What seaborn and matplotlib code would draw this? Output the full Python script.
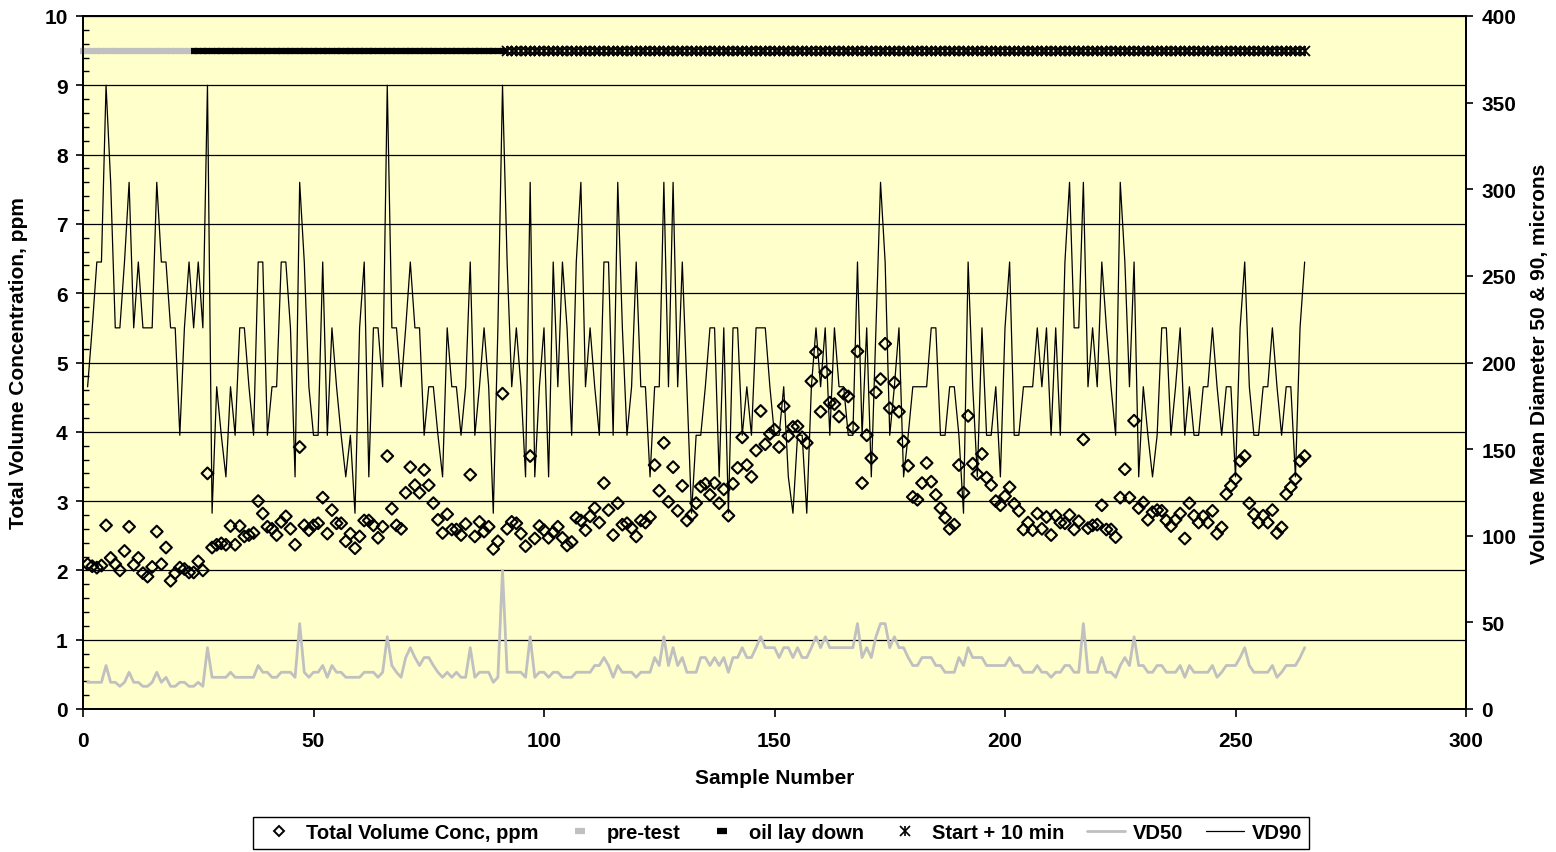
import numpy as np
import matplotlib
matplotlib.use("Agg")
import matplotlib.pyplot as plt
from matplotlib.lines import Line2D
from matplotlib.legend_handler import HandlerTuple
from matplotlib.ticker import MultipleLocator
import seaborn as sns

# ---------------------------------------------------------------- data
samples = np.arange(1, 266)

total_volume_conc = [
    2.09, 2.06, 2.04, 2.07, 2.65, 2.18, 2.09, 2.00, 2.28, 2.63,
    2.08, 2.18, 1.96, 1.91, 2.05, 2.56, 2.09, 2.33, 1.85, 1.96,
    2.04, 2.02, 1.97, 1.97, 2.13, 2.00, 3.40, 2.33, 2.37, 2.39,
    2.37, 2.64, 2.37, 2.64, 2.49, 2.51, 2.54, 3.00, 2.82, 2.63,
    2.60, 2.51, 2.70, 2.78, 2.60, 2.37, 3.78, 2.65, 2.58, 2.65,
    2.68, 3.05, 2.53, 2.87, 2.68, 2.68, 2.42, 2.53, 2.32, 2.49,
    2.72, 2.72, 2.65, 2.47, 2.63, 3.65, 2.89, 2.65, 2.60, 3.12,
    3.49, 3.23, 3.12, 3.45, 3.23, 2.97, 2.73, 2.54, 2.81, 2.59,
    2.59, 2.51, 2.67, 3.38, 2.49, 2.70, 2.56, 2.63, 2.31, 2.42,
    4.55, 2.60, 2.70, 2.68, 2.53, 2.35, 3.65, 2.46, 2.64, 2.58,
    2.47, 2.55, 2.63, 2.47, 2.36, 2.41, 2.76, 2.72, 2.58, 2.78,
    2.90, 2.69, 3.26, 2.87, 2.51, 2.97, 2.66, 2.68, 2.61, 2.49,
    2.72, 2.69, 2.77, 3.52, 3.15, 3.84, 2.99, 3.49, 2.86, 3.22,
    2.72, 2.80, 2.97, 3.21, 3.25, 3.09, 3.26, 2.97, 3.17, 2.79,
    3.25, 3.48, 3.92, 3.52, 3.35, 3.73, 4.30, 3.82, 3.97, 4.03,
    3.78, 4.37, 3.94, 4.07, 4.08, 3.92, 3.84, 4.73, 5.15, 4.29,
    4.86, 4.42, 4.40, 4.22, 4.55, 4.51, 4.06, 5.16, 3.26, 3.95,
    3.62, 4.57, 4.76, 5.27, 4.34, 4.71, 4.29, 3.86, 3.51, 3.06,
    3.02, 3.26, 3.55, 3.28, 3.09, 2.90, 2.76, 2.60, 2.66, 3.52,
    3.12, 4.23, 3.54, 3.39, 3.68, 3.34, 3.23, 3.00, 2.94, 3.07,
    3.20, 2.96, 2.86, 2.59, 2.69, 2.58, 2.82, 2.60, 2.77, 2.51,
    2.79, 2.69, 2.68, 2.80, 2.59, 2.71, 3.89, 2.61, 2.65, 2.66,
    2.94, 2.59, 2.59, 2.48, 3.05, 3.46, 3.05, 4.16, 2.90, 2.98,
    2.73, 2.84, 2.87, 2.86, 2.72, 2.64, 2.73, 2.82, 2.46, 2.97,
    2.79, 2.69, 2.78, 2.69, 2.86, 2.53, 2.62, 3.10, 3.22, 3.32,
    3.58, 3.65, 2.97, 2.81, 2.69, 2.79, 2.69, 2.87, 2.54, 2.62,
    3.10, 3.20, 3.32, 3.58, 3.65,
]

vd50 = [
    15.4, 15.4, 15.4, 15.4, 25.1, 15.4, 15.4, 13.1, 15.4, 21.2,
    15.4, 15.4, 13.1, 13.1, 15.4, 21.2, 15.4, 18.3, 13.1, 13.1,
    15.4, 15.4, 13.1, 13.1, 15.4, 13.1, 35.4, 18.3, 18.3, 18.3,
    18.3, 21.2, 18.3, 18.3, 18.3, 18.3, 18.3, 25.1, 21.2, 21.2,
    18.3, 18.3, 21.2, 21.2, 21.2, 18.3, 49.3, 21.2, 18.3, 21.2,
    21.2, 25.1, 18.3, 25.1, 21.2, 21.2, 18.3, 18.3, 18.3, 18.3,
    21.2, 21.2, 21.2, 18.3, 21.2, 41.7, 25.1, 21.2, 18.3, 29.7,
    35.4, 29.7, 25.1, 29.7, 29.7, 25.1, 21.2, 18.3, 21.2, 18.3,
    21.2, 18.3, 18.3, 35.4, 18.3, 21.2, 21.2, 21.2, 15.4, 18.3,
    80.0, 21.2, 21.2, 21.2, 21.2, 18.3, 41.7, 18.3, 21.2, 21.2,
    18.3, 21.2, 21.2, 18.3, 18.3, 18.3, 21.2, 21.2, 21.2, 21.2,
    25.1, 25.1, 29.7, 25.1, 18.3, 25.1, 21.2, 21.2, 21.2, 18.3,
    21.2, 21.2, 21.2, 29.7, 25.1, 41.7, 25.1, 35.4, 25.1, 29.7,
    21.2, 21.2, 21.2, 29.7, 29.7, 25.1, 29.7, 25.1, 29.7, 21.2,
    29.7, 29.7, 35.4, 29.7, 29.7, 35.4, 41.7, 35.4, 35.4, 35.4,
    29.7, 35.4, 35.4, 29.7, 35.4, 29.7, 29.7, 35.4, 41.7, 35.4,
    41.7, 35.4, 35.4, 35.4, 35.4, 35.4, 35.4, 49.3, 29.7, 35.4,
    29.7, 41.7, 49.3, 49.3, 35.4, 41.7, 35.4, 35.4, 29.7, 25.1,
    25.1, 29.7, 29.7, 29.7, 25.1, 25.1, 21.2, 21.2, 21.2, 29.7,
    25.1, 35.4, 29.7, 29.7, 29.7, 25.1, 25.1, 25.1, 25.1, 25.1,
    29.7, 25.1, 25.1, 21.2, 21.2, 21.2, 25.1, 21.2, 21.2, 18.3,
    21.2, 21.2, 25.1, 25.1, 21.2, 21.2, 49.3, 21.2, 21.2, 21.2,
    29.7, 21.2, 21.2, 18.3, 25.1, 29.7, 25.1, 41.7, 25.1, 25.1,
    21.2, 21.2, 25.1, 25.1, 21.2, 21.2, 21.2, 25.1, 18.3, 25.1,
    21.2, 21.2, 21.2, 21.2, 25.1, 18.3, 21.2, 25.1, 25.1, 25.1,
    29.7, 35.4, 25.1, 21.2, 21.2, 21.2, 21.2, 25.1, 18.3, 21.2,
    25.1, 25.1, 25.1, 29.7, 35.4,
]

vd90 = [
    186, 220, 258, 258, 360, 304, 220, 220, 258, 304,
    220, 258, 220, 220, 220, 304, 258, 258, 220, 220,
    158, 220, 258, 220, 258, 220, 360, 113, 186, 158,
    134, 186, 158, 220, 220, 186, 158, 258, 258, 158,
    186, 186, 258, 258, 220, 134, 304, 258, 186, 158,
    158, 258, 158, 220, 186, 158, 134, 158, 113, 220,
    258, 134, 220, 220, 186, 360, 220, 220, 186, 220,
    258, 220, 220, 158, 186, 186, 158, 134, 220, 186,
    186, 158, 186, 258, 158, 186, 220, 186, 113, 220,
    360, 258, 186, 220, 186, 134, 304, 134, 186, 220,
    134, 258, 186, 258, 220, 158, 258, 304, 186, 220,
    186, 158, 258, 258, 158, 304, 220, 158, 186, 258,
    186, 186, 134, 186, 186, 304, 186, 304, 186, 258,
    186, 113, 158, 158, 186, 220, 220, 134, 220, 113,
    220, 220, 158, 186, 158, 220, 220, 220, 186, 158,
    158, 186, 134, 113, 158, 158, 113, 186, 220, 186,
    220, 158, 220, 186, 186, 158, 158, 258, 158, 220,
    134, 220, 304, 258, 158, 186, 220, 134, 158, 186,
    186, 186, 186, 220, 220, 158, 158, 186, 186, 158,
    113, 258, 186, 134, 220, 158, 158, 186, 134, 220,
    258, 158, 158, 186, 186, 186, 220, 186, 220, 158,
    220, 158, 258, 304, 220, 220, 304, 186, 220, 186,
    258, 220, 186, 158, 304, 258, 186, 258, 134, 186,
    158, 134, 158, 220, 220, 158, 186, 220, 158, 186,
    158, 158, 186, 186, 220, 186, 158, 186, 186, 134,
    220, 258, 186, 158, 158, 186, 186, 220, 186, 158,
    186, 186, 134, 220, 258,
]

# test phases, shown as a band across the top of the plot
pretest_samples = np.arange(0, 24)
laydown_samples = np.arange(24, 92)
start10_samples = np.arange(92, 266)
phase_level = 9.5

# ---------------------------------------------------------------- style
sns.set_style("ticks")
plt.rcParams["font.family"] = ["Liberation Sans", "DejaVu Sans"]
plt.rcParams["font.weight"] = "bold"
plt.rcParams["axes.labelweight"] = "bold"
plt.rcParams["text.color"] = "black"
plt.rcParams["axes.labelcolor"] = "black"
plt.rcParams["xtick.color"] = "black"
plt.rcParams["ytick.color"] = "black"
plt.rcParams["xtick.labelcolor"] = "black"
plt.rcParams["ytick.labelcolor"] = "black"

W, H = 1556, 853
fig = plt.figure(figsize=(W / 100, H / 100), dpi=100)
fig.patch.set_facecolor("white")

left, right, top, bottom = 83, 1466, 17, 710
ax = fig.add_axes([left / W, 1 - bottom / H, (right - left) / W, (bottom - top) / H])
ax.set_facecolor("#FFFFCC")
ax2 = ax.twinx()

FS = 15

# horizontal gridlines on the concentration axis
ax.set_axisbelow(True)
ax.yaxis.grid(True, which="major", color="black", linewidth=0.9)
ax.xaxis.grid(False)

# diameters on the secondary axis
sns.lineplot(x=samples, y=vd50, ax=ax2, color="#C0C0C0", linewidth=2.0,
             estimator=None, sort=False, legend=False)
sns.lineplot(x=samples, y=vd90, ax=ax2, color="black", linewidth=0.9,
             estimator=None, sort=False, legend=False)

# concentration as hollow diamonds
sns.scatterplot(x=samples, y=total_volume_conc, ax=ax, marker="D", s=36,
                facecolor="none", edgecolor="black", linewidth=1.5,
                legend=False, zorder=3)

# phase band
ax.plot(pretest_samples, np.full(len(pretest_samples), phase_level),
        ls="none", marker="_", ms=3.8, mew=4.5, color="#C0C0C0",
        clip_on=False, zorder=4)
ax.plot(laydown_samples, np.full(len(laydown_samples), phase_level),
        ls="none", marker="_", ms=3.8, mew=4.5, color="black",
        clip_on=False, zorder=4)
ax.plot(start10_samples, np.full(len(start10_samples), phase_level),
        ls="none", marker="x", ms=6.5, mew=1.3, color="black", zorder=4)
ax.plot(start10_samples, np.full(len(start10_samples), phase_level),
        ls="none", marker="|", ms=6.5, mew=1.3, color="black", zorder=4)

# ---------------------------------------------------------------- axes
ax.set_xlim(0, 300)
ax.set_ylim(0, 10)
ax2.set_ylim(0, 400)

ax.set_xticks(np.arange(0, 301, 50))
ax.set_yticks(np.arange(0, 11, 1))
ax.yaxis.set_minor_locator(MultipleLocator(0.2))
ax2.set_yticks(np.arange(0, 401, 50))

ax.tick_params(axis="x", which="major", direction="out", length=6, width=1.2,
               labelsize=FS, pad=10, color="black", labelcolor="black")
ax.tick_params(axis="y", which="major", direction="out", length=5, width=1.2,
               labelsize=FS, pad=6, color="black", labelcolor="black")
ax.tick_params(axis="y", which="minor", direction="in", length=4, width=1.0,
               color="black")
ax2.tick_params(axis="y", which="major", direction="out", length=5, width=1.2,
                labelsize=FS, pad=6, color="black", labelcolor="black")

for a in (ax, ax2):
    for sp in a.spines.values():
        sp.set_visible(True)
        sp.set_color("black")
        sp.set_linewidth(1.3)

ax.set_xlabel("Sample Number", fontsize=FS, fontweight="bold", labelpad=13,
              color="black")
ax.set_ylabel("Total Volume Concentration, ppm", fontsize=FS,
              fontweight="bold", labelpad=12, color="black")
ax2.set_ylabel("Volume Mean Diameter 50 & 90, microns", fontsize=FS,
               fontweight="bold", labelpad=10, color="black")

# ---------------------------------------------------------------- legend
h_diamond = Line2D([], [], ls="none", marker="D", ms=5.5, mfc="none",
                   mec="black", mew=1.4)
h_pre = Line2D([], [], ls="none", marker="_", ms=7, mew=4.5, color="#C0C0C0")
h_lay = Line2D([], [], ls="none", marker="_", ms=7, mew=4.5, color="black")
h_star = (Line2D([], [], ls="none", marker="x", ms=7, mew=1.2, color="black"),
          Line2D([], [], ls="none", marker="|", ms=7, mew=1.2, color="black"))
h_vd50 = Line2D([], [], color="#C0C0C0", linewidth=2.0)
h_vd90 = Line2D([], [], color="black", linewidth=0.9)

leg = fig.legend(
    [h_diamond, h_pre, h_lay, h_star, h_vd50, h_vd90],
    ["Total Volume Conc, ppm", "pre-test", "oil lay down", "Start + 10 min",
     "VD50", "VD90"],
    loc="center", bbox_to_anchor=(781 / W, 1 - 834 / H), ncol=6,
    frameon=True, fancybox=False, shadow=False, edgecolor="black",
    framealpha=1, fontsize=FS - 0.5, handlelength=1.9, handletextpad=0.4,
    columnspacing=1.1, borderpad=0.3,
    handler_map={tuple: HandlerTuple(ndivide=1, pad=0)},
)
leg.get_frame().set_linewidth(1.0)
for t in leg.get_texts():
    t.set_fontweight("bold")
    t.set_color("black")

fig.savefig("out.png", dpi=100)
